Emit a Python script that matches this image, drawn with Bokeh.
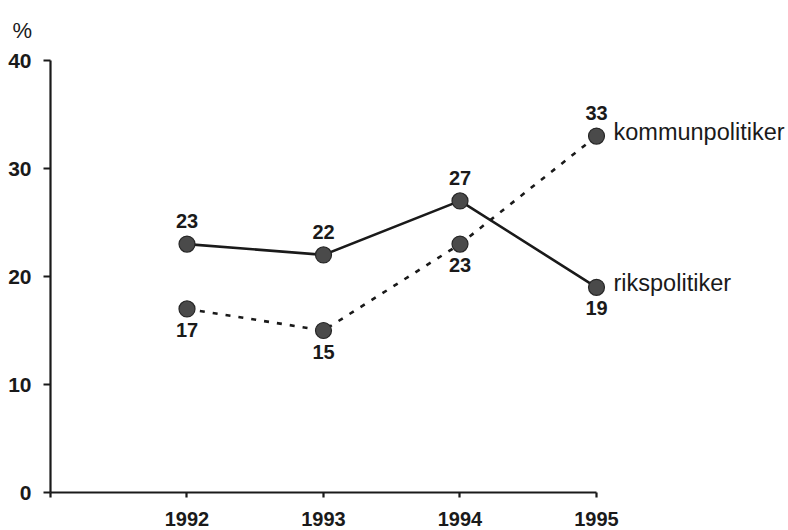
from bokeh.plotting import figure
from bokeh.models import Range1d, ColumnDataSource, FixedTicker
from bokeh.core.properties import value
from bokeh.embed import file_html
from bokeh.resources import INLINE

# ---- data ----
years = [1992, 1993, 1994, 1995]
riks = [23, 22, 27, 19]
kommun = [17, 15, 23, 33]
riks_name = "rikspolitiker"
kommun_name = "kommunpolitiker"
y_ticks = [0, 10, 20, 30, 40]
x_ticks = [1991, 1992, 1993, 1994, 1995]
x_tick_labels = ["", "1992", "1993", "1994", "1995"]
y_unit = "%"

# ---- label placement (style) ----
riks_place = ["above", "above", "above", "below"]
kommun_place = ["below", "below", "below", "above"]
def offs(places):
    return [-23 if pl == "above" else 21 for pl in places]

FONT = value("Liberation Sans")
INK = "#1a1a1a"

p = figure(width=788, height=530, x_range=Range1d(1991, 1996.4066), y_range=Range1d(0, 40),
           output_backend="svg", toolbar_location=None,
           min_border_left=50, min_border_right=0, min_border_top=60, min_border_bottom=38,
           title=y_unit)
p.outline_line_color = None
p.grid.visible = False
p.background_fill_color = "white"
p.border_fill_color = "white"

p.title.align = "left"
p.title.vertical_align = "top"
p.title.offset = -38
p.title.standoff = 32
p.title.text_font = "Liberation Sans"
p.title.text_font_size = "22px"
p.title.text_font_style = "normal"
p.title.text_color = INK

for ax in (p.xaxis[0], p.yaxis[0]):
    ax.axis_line_width = 2.2
    ax.axis_line_color = INK
    ax.major_tick_line_width = 2.2
    ax.major_tick_line_color = INK
    ax.major_tick_in = 0
    ax.minor_tick_line_color = None
    ax.major_label_text_font = "Liberation Sans"
    ax.major_label_text_font_style = "bold"
    ax.major_label_text_color = INK

p.xaxis.ticker = FixedTicker(ticks=x_ticks)
p.xaxis.major_label_overrides = {t: l for t, l in zip(x_ticks, x_tick_labels)}
p.xaxis.bounds = (1991, 1995)
p.xaxis.major_tick_out = 5
p.xaxis.major_label_standoff = 14
p.xaxis.major_label_text_font_size = "20px"

p.yaxis.ticker = FixedTicker(ticks=y_ticks)
p.yaxis.bounds = (0, 40)
p.yaxis.major_tick_out = 7
p.yaxis.major_label_standoff = 12
p.yaxis.major_label_text_font_size = "21px"

# lines
p.line(years, riks, line_color=INK, line_width=2.6)
p.line(years, kommun, line_color=INK, line_width=2.6, line_dash="5 8")

# markers
for ys in (riks, kommun):
    p.scatter(years, ys, size=16, fill_color="#4a4a4a", line_color="#262626", line_width=1.2)

# value labels
for ys, places in ((riks, riks_place), (kommun, kommun_place)):
    src = ColumnDataSource(dict(x=years, y=ys, t=[str(v) for v in ys], yo=offs(places)))
    p.text("x", "y", text="t", source=src, y_offset="yo", text_align="center",
           text_baseline="middle", text_font=FONT, text_font_style="bold",
           text_font_size="20px", text_color=INK)

# series names
p.text([years[-1]], [kommun[-1]], text=[kommun_name], x_offset=17, y_offset=-4,
       text_align="left", text_baseline="middle", text_font=FONT,
       text_font_size="23.5px", text_color=INK)
p.text([years[-1]], [riks[-1]], text=[riks_name], x_offset=17, y_offset=-4,
       text_align="left", text_baseline="middle", text_font=FONT,
       text_font_size="23.5px", text_color=INK)

open("out.html", "w").write(file_html(p, INLINE))
